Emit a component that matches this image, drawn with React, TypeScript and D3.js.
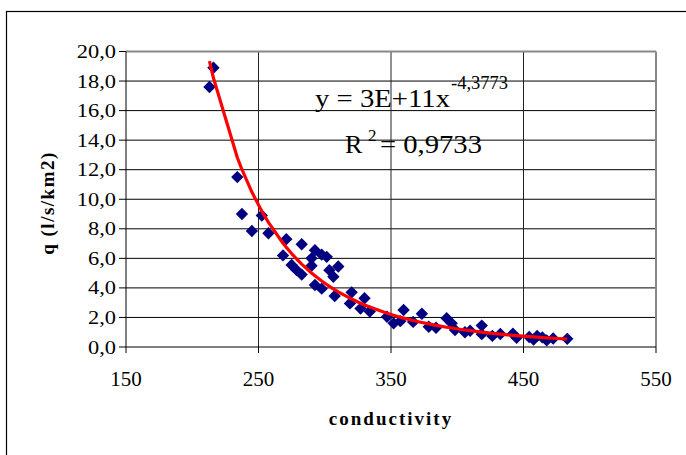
import React from 'react';
import * as d3 from 'd3';

const conductivity = [
  213, 216, 234, 237.5, 245, 252.5, 257.5, 271, 268.5, 275, 278.8, 282.6, 282.6,
  290, 290, 292.6, 297.7, 301.5, 292.6, 297.7, 303.5, 306.5, 310.2, 307.5, 320.3,
  319, 330, 327, 334, 347, 352, 359.5, 357, 366.7, 373.3, 378.5, 384, 392, 395.8,
  398.3, 405.8, 409.7, 418.5, 418.5, 426.5, 432.5, 442, 444.8, 454.3, 457.6, 460.3,
  464.2, 467.5, 472.4, 483,
];
const qValues = [
  17.6, 18.9, 11.5, 9.0, 7.85, 8.9, 7.7, 7.3, 6.2, 5.55, 5.2, 6.95, 4.9,
  6.0, 5.5, 6.55, 6.25, 6.1, 4.2, 3.95, 5.2, 4.75, 5.45, 3.45, 3.7,
  2.95, 3.3, 2.6, 2.4, 2.05, 1.6, 2.5, 1.75, 1.7, 2.25, 1.37, 1.3, 1.95, 1.6,
  1.15, 1.0, 1.1, 1.45, 0.87, 0.75, 0.88, 0.9, 0.62, 0.68, 0.5, 0.75,
  0.65, 0.45, 0.58, 0.55,
];
const xTicks = [150, 250, 350, 450, 550];
const yTicks = [0, 2, 4, 6, 8, 10, 12, 14, 16, 18, 20];
const xTitle = 'conductivity';
const yTitle = 'q (l/s/km2)';
const eqMain = 'y = 3E+11x';
const eqExp = '-4,3773';
const r2Main = 'R';
const r2Exp = '2';
const r2Value = '= 0,9733';

const W = 686;
const H = 455;
const plot = { left: 126, right: 656, top: 51.5, bottom: 347 };
const FONT = '"Liberation Serif", "Times New Roman", serif';

const fmtY = (v: number) => v.toFixed(1).replace('.', ',');

export default function App() {
  const x = d3.scaleLinear().domain([150, 550]).range([plot.left, plot.right]);
  const y = d3.scaleLinear().domain([0, 20]).range([plot.bottom, plot.top]);

  // power-law least squares fit in log space (as the spreadsheet trendline)
  const lx = conductivity.map(Math.log);
  const ly = qValues.map(Math.log);
  const mx = d3.mean(lx) as number;
  const my = d3.mean(ly) as number;
  const b =
    d3.sum(lx.map((v, i) => (v - mx) * (ly[i] - my))) /
    d3.sum(lx.map((v) => (v - mx) * (v - mx)));
  const a = Math.exp(my - b * mx);
  const trendX = [...conductivity].sort((p, r) => p - r);
  const trendPath = d3
    .line<number>()
    .x((d) => x(d))
    .y((d) => y(a * Math.pow(d, b)))(trendX) as string;

  const diamond = 'M0,-6.2L6.2,0L0,6.2L-6.2,0Z';

  return (
    <svg
      width={W}
      height={H}
      style={{ position: 'absolute', left: 0, top: 0, display: 'block', background: '#fff' }}
    >
      <rect x={0} y={0} width={W} height={H} fill="#fff" />
      {/* outer chart frame */}
      <rect x={6.5} y={11.5} width={W + 20} height={H + 20} fill="none" stroke="#000" strokeWidth={1.2} />

      {/* horizontal gridlines */}
      {yTicks
        .filter((t) => t > 0 && t < 20)
        .map((t) => (
          <line key={'hg' + t} x1={plot.left} x2={plot.right} y1={y(t)} y2={y(t)} stroke="#000" strokeWidth={1} />
        ))}
      {/* vertical gridlines */}
      {xTicks
        .filter((t) => t > 150 && t < 550)
        .map((t) => (
          <line key={'vg' + t} x1={x(t)} x2={x(t)} y1={plot.top} y2={plot.bottom} stroke="#222" strokeWidth={1} />
        ))}
      {/* plot border (top/right) */}
      <line x1={plot.left} x2={plot.right} y1={plot.top} y2={plot.top} stroke="#888" strokeWidth={2} />
      <line x1={plot.right} x2={plot.right} y1={plot.top} y2={plot.bottom} stroke="#888" strokeWidth={2} />

      {/* axes */}
      <line x1={plot.left} x2={plot.left} y1={plot.top} y2={plot.bottom} stroke="#000" strokeWidth={1} />
      <line x1={plot.left} x2={plot.right} y1={plot.bottom} y2={plot.bottom} stroke="#000" strokeWidth={1} />
      {yTicks.map((t) => (
        <g key={'yt' + t}>
          <line x1={plot.left - 7} x2={plot.left} y1={y(t)} y2={y(t)} stroke="#000" strokeWidth={1} />
          <text
            transform={`translate(116,${y(t) + 6.5}) scale(1.18,1)`}
            textAnchor="end"
            fontFamily={FONT}
            fontSize={19}
            fill="#000"
          >
            {fmtY(t)}
          </text>
        </g>
      ))}
      {xTicks.map((t) => (
        <g key={'xt' + t}>
          <line x1={x(t)} x2={x(t)} y1={plot.bottom} y2={plot.bottom + 6} stroke="#000" strokeWidth={1} />
          <text x={x(t)} y={386} textAnchor="middle" fontFamily={FONT} fontSize={21} fill="#000">
            {t}
          </text>
        </g>
      ))}

      {/* axis titles */}
      <text
        x={391}
        y={425}
        textAnchor="middle"
        fontFamily={FONT}
        fontSize={19}
        fontWeight="bold"
        letterSpacing={2}
        fill="#000"
      >
        {xTitle}
      </text>
      <text
        transform="translate(54,203) rotate(-90)"
        textAnchor="middle"
        fontFamily={FONT}
        fontSize={19}
        fontWeight="bold"
        letterSpacing={1.5}
        fill="#000"
      >
        {yTitle}
      </text>

      {/* data points */}
      {conductivity.map((c, i) => (
        <path key={'p' + i} d={diamond} transform={`translate(${x(c)},${y(qValues[i])})`} fill="#000080" />
      ))}

      {/* trendline */}
      <path d={trendPath} fill="none" stroke="#ff0000" strokeWidth={3.2} strokeLinejoin="round" />

      {/* equation */}
      <text x={315} y={107} fontFamily={FONT} fontSize={26} fill="#000" textLength={135} lengthAdjust="spacingAndGlyphs">
        {eqMain}
      </text>
      <text x={451} y={89} fontFamily={FONT} fontSize={18.5} fill="#000">
        {eqExp}
      </text>
      <text x={345} y={153} fontFamily={FONT} fontSize={26} fill="#000">
        {r2Main}
      </text>
      <text x={368} y={141} fontFamily={FONT} fontSize={17} fill="#000">
        {r2Exp}
      </text>
      <text x={380} y={153} fontFamily={FONT} fontSize={26} fill="#000" textLength={102} lengthAdjust="spacingAndGlyphs">
        {r2Value}
      </text>
    </svg>
  );
}
